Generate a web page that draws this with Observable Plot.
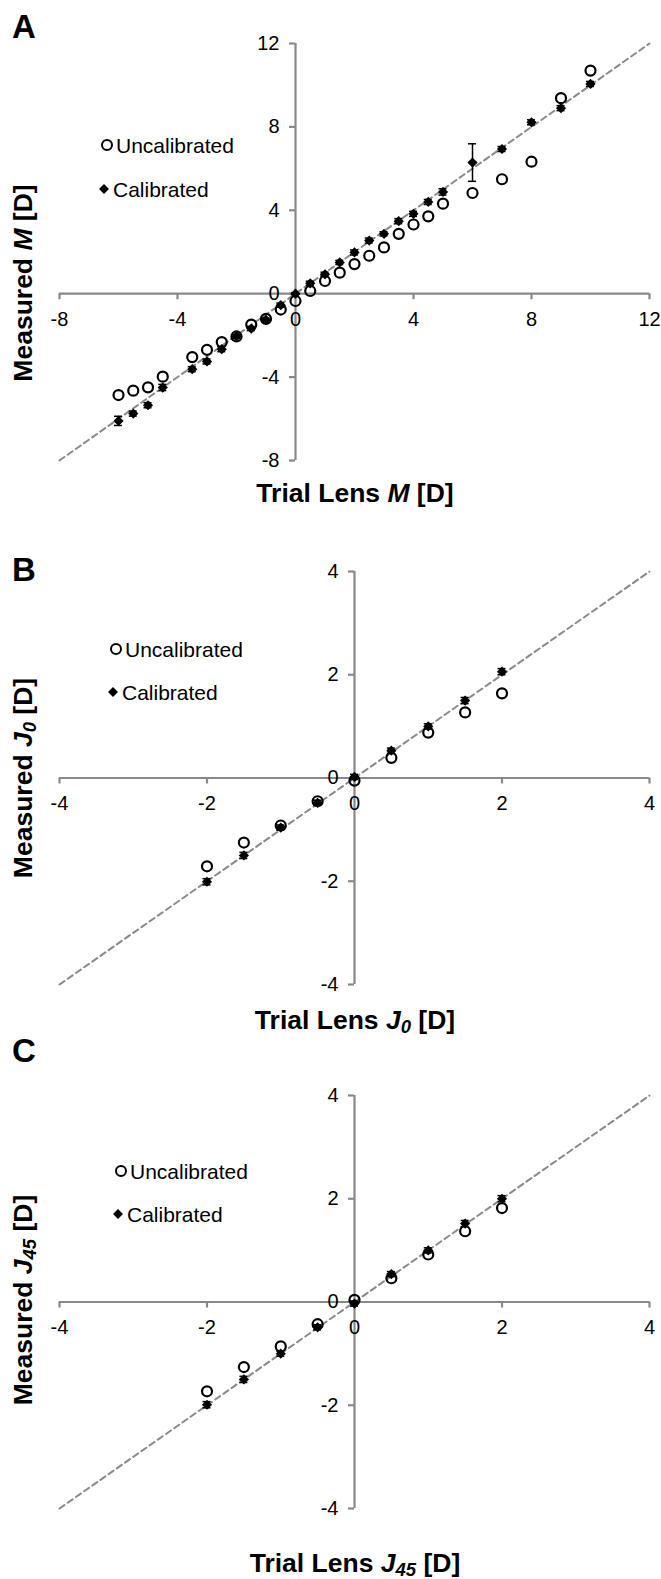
<!DOCTYPE html>
<html><head><meta charset="utf-8">
<script src="https://cdn.jsdelivr.net/npm/d3@7"></script>
<script src="https://cdn.jsdelivr.net/npm/@observablehq/plot@0.6"></script>
<style>
body{margin:0;background:#fff;}
#root{position:relative;width:661px;height:1579px;font-family:"Liberation Sans",Arial,sans-serif;overflow:hidden;background:#fff}
.panel{position:absolute;left:0;width:661px}
.abs{position:absolute;white-space:nowrap;color:#000;line-height:1}
.letter{font-weight:bold;font-size:33px}
.xt{font-weight:bold;font-size:26.5px;transform:translate(-50%,-50%)}
.yt{font-weight:bold;font-size:26.5px;transform:translate(-50%,-50%) rotate(-90deg)}
.leg{font-size:21px;transform:translateY(-50%)}
.circ{position:absolute;width:8px;height:8px;border:2.2px solid #000;border-radius:50%;transform:translate(-50%,-50%)}
.diam{position:absolute;width:7px;height:7px;background:#000;transform:translate(-50%,-50%) rotate(45deg)}
sub{font-size:70%;vertical-align:-0.25em;line-height:0}
</style></head><body><div id="root"></div>
<script>
// ---- data ----
const ticksM = [-8, -4, 0, 4, 8, 12];
const ticksJ = [-4, -2, 0, 2, 4];
const trialM = [-6,-5.5,-5,-4.5,-3.5,-3,-2.5,-2,-1.5,-1,-0.5,0,0.5,1,1.5,2,2.5,3,3.5,4,4.5,5,6,7,8,9,10];
const uncalM = [-4.86,-4.65,-4.49,-3.98,-3.04,-2.69,-2.32,-2.05,-1.48,-1.21,-0.76,-0.35,0.13,0.61,1.01,1.42,1.82,2.22,2.87,3.32,3.71,4.32,4.83,5.49,6.33,9.38,10.7];
const calM   = [-6.1,-5.75,-5.35,-4.5,-3.62,-3.25,-2.66,-2.05,-1.67,-1.26,-0.55,0.0,0.5,0.93,1.5,1.98,2.55,2.87,3.48,3.83,4.4,4.88,6.29,6.94,8.22,8.9,10.06];
const errM   = [0.22,0.12,0.12,0.15,0.12,0.12,0.12,0.1,0.1,0.1,0.1,0.05,0.1,0.1,0.1,0.12,0.12,0.1,0.12,0.12,0.12,0.15,0.9,0.12,0.12,0.12,0.12];
const trialJ = [-2,-1.5,-1,-0.5,0,0.5,1,1.5,2];
const uncalJ0 = [-1.71,-1.25,-0.92,-0.45,-0.05,0.39,0.88,1.27,1.64];
const calJ0   = [-2.01,-1.5,-0.96,-0.48,0.02,0.53,1.0,1.5,2.06];
const errJ0   = [0.06,0.06,0.05,0.05,0.05,0.05,0.05,0.06,0.06];
const uncalJ45 = [-1.73,-1.26,-0.86,-0.43,0.04,0.46,0.92,1.37,1.82];
const calJ45   = [-1.99,-1.5,-1.0,-0.49,-0.03,0.54,1.0,1.52,2.0];
const errJ45   = [0.06,0.06,0.05,0.05,0.05,0.05,0.05,0.06,0.06];

const AX = "#898989";
const root = document.getElementById("root");

function makePanel(cfg) {
  const {top, height, mt, mb, ticks, trial, uncal, cal, err} = cfg;
  const domain = [ticks[0], ticks[ticks.length - 1]];
  const idx = d3.range(trial.length);
  const plot = Plot.plot({
    width: 661, height,
    marginTop: mt, marginBottom: mb, marginLeft: 59, marginRight: 12,
    x: {domain, axis: null},
    y: {domain, axis: null},
    style: {fontFamily: '"Liberation Sans", Arial, sans-serif', fontSize: "20px", color: "#000", background: "transparent", overflow: "visible"},
    marks: [
      Plot.ruleY([0], {x1: domain[0], x2: domain[1], stroke: AX, strokeWidth: 2.2}),
      Plot.ruleX([0], {y1: domain[0], y2: domain[1], stroke: AX, strokeWidth: 2.2}),
      Plot.ruleX(ticks, {x: d => d, y1: 0, y2: 0, insetTop: 6, stroke: AX, strokeWidth: 2.2}),
      Plot.ruleY(ticks, {y: d => d, x1: 0, x2: 0, insetRight: 6, stroke: AX, strokeWidth: 2.2}),
      Plot.text(ticks, {x: d => d, y: 0, text: d => String(d), lineAnchor: "top", dy: 18, fill: "#000"}),
      Plot.text(ticks, {x: 0, y: d => d, text: d => String(d), textAnchor: "end", dx: -16, fill: "#000"}),
      Plot.line(domain, {x: d => d, y: d => d, stroke: "#8a8a8a", strokeWidth: 2, strokeDasharray: "6,4"}),
      Plot.dot(idx, {x: i => trial[i], y: i => uncal[i], r: 5, stroke: "#000", strokeWidth: 2.2, fill: "none"}),
      Plot.ruleX(idx, {x: i => trial[i], y1: i => cal[i] - err[i], y2: i => cal[i] + err[i], stroke: "#000", strokeWidth: 1.5}),
      Plot.ruleY(idx, {y: i => cal[i] + err[i], x1: i => trial[i], x2: i => trial[i], insetLeft: -4, insetRight: -4, stroke: "#000", strokeWidth: 1.5}),
      Plot.ruleY(idx, {y: i => cal[i] - err[i], x1: i => trial[i], x2: i => trial[i], insetLeft: -4, insetRight: -4, stroke: "#000", strokeWidth: 1.5}),
      Plot.dot(idx, {x: i => trial[i], y: i => cal[i], symbol: "diamond2", r: 4.6, fill: "#000", stroke: "none"})
    ]
  });
  const div = document.createElement("div");
  div.className = "panel";
  div.style.top = top + "px";
  div.style.height = height + "px";
  div.appendChild(plot);
  root.appendChild(div);
}

function addHTML(html, cls, left, top) {
  const d = document.createElement("div");
  d.className = "abs " + cls;
  d.style.left = left + "px";
  d.style.top = top + "px";
  d.innerHTML = html;
  root.appendChild(d);
  return d;
}
function legend(xc, y1, xd, y2) {
  const c = document.createElement("div"); c.className = "circ"; c.style.left = xc + "px"; c.style.top = y1 + "px"; root.appendChild(c);
  const m = document.createElement("div"); m.className = "diam"; m.style.left = xd + "px"; m.style.top = y2 + "px"; root.appendChild(m);
  addHTML("Uncalibrated", "leg", xc + 9, y1);
  addHTML("Calibrated", "leg", xd + 9, y2);
}

makePanel({top: 0, height: 520, mt: 43, mb: 60, ticks: ticksM, trial: trialM, uncal: uncalM, cal: calM, err: errM});
makePanel({top: 520, height: 520, mt: 51, mb: 56, ticks: ticksJ, trial: trialJ, uncal: uncalJ0, cal: calJ0, err: errJ0});
makePanel({top: 1040, height: 539, mt: 55, mb: 71, ticks: ticksJ, trial: trialJ, uncal: uncalJ45, cal: calJ45, err: errJ45});

addHTML("A", "letter", 12, 10);
addHTML("B", "letter", 12, 553);
addHTML("C", "letter", 12, 1034);

addHTML('Trial Lens <i>M</i> [D]', "xt", 355, 493);
addHTML('Measured <i>M</i> [D]', "yt", 23, 283);
addHTML('Trial Lens <i>J<sub>0</sub></i> [D]', "xt", 355, 1020);
addHTML('Measured <i>J<sub>0</sub></i> [D]', "yt", 23, 778);
addHTML('Trial Lens <i>J<sub>45</sub></i> [D]', "xt", 355, 1563);
addHTML('Measured <i>J<sub>45</sub></i> [D]', "yt", 23, 1300);

legend(107, 145, 104, 189);
legend(116, 649, 113, 692);
legend(121, 1171, 118, 1214);
</script></body></html>
